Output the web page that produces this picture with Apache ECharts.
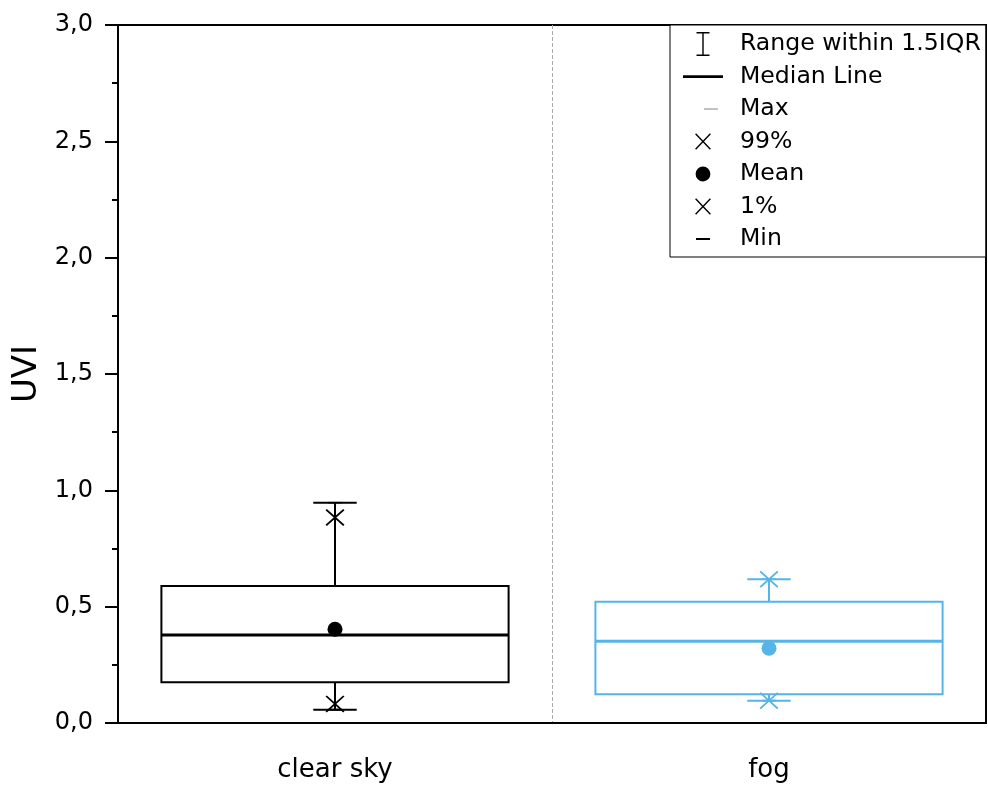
<!DOCTYPE html>
<html>
<head>
<meta charset="utf-8">
<style>
  html, body { margin: 0; padding: 0; background: #fff; }
  #main { width: 988px; height: 787px; }
</style>
<script src="https://cdn.jsdelivr.net/npm/echarts@6/dist/echarts.min.js"></script>
</head>
<body>
<div id="main"></div>
<script>
var categories = ['clear sky', 'fog'];
var colors = ['#000000', '#56B4E9'];

// whisker ends (range within 1.5 IQR), quartiles, median
var whiskerLow = [0.057, 0.096];
var q1 = [0.175, 0.124];
var median = [0.378, 0.351];
var q3 = [0.589, 0.521];
var whiskerHigh = [0.947, 0.618];

var maxVals = [0.947, 0.618];
var p99 = [0.883, 0.618];
var means = [0.403, 0.321];
var p1 = [0.082, 0.096];
var minVals = [0.057, 0.096];

var yTicks = [0, 0.5, 1, 1.5, 2, 2.5, 3];

var chart = echarts.init(document.getElementById('main'));

function pointData(vals) {
  return vals.map(function (v, i) {
    return { value: [i, v], itemStyle: { color: colors[i] } };
  });
}

var boxData = categories.map(function (c, i) {
  return {
    value: [i, whiskerLow[i], q1[i], median[i], q3[i], whiskerHigh[i]],
    itemStyle: { color: colors[i] }
  };
});

function renderBox(params, api) {
  var x = api.value(0);
  var lo = api.coord([x, api.value(1)]);
  var b1 = api.coord([x, api.value(2)]);
  var b3 = api.coord([x, api.value(4)]);
  var hi = api.coord([x, api.value(5)]);
  var band = api.size([1, 0])[0];
  var bw = band * 0.8, cw = band * 0.1;
  var c = api.visual('color');
  var st = { stroke: c, lineWidth: 2, fill: null };
  return {
    type: 'group',
    children: [
      { type: 'rect', shape: { x: lo[0] - bw / 2, y: b3[1], width: bw, height: b1[1] - b3[1] }, style: st },
      { type: 'line', shape: { x1: hi[0], y1: hi[1], x2: hi[0], y2: b3[1] }, style: st },
      { type: 'line', shape: { x1: lo[0], y1: b1[1], x2: lo[0], y2: lo[1] }, style: st },
      { type: 'line', shape: { x1: hi[0] - cw / 2, y1: hi[1], x2: hi[0] + cw / 2, y2: hi[1] }, style: st },
      { type: 'line', shape: { x1: lo[0] - cw / 2, y1: lo[1], x2: lo[0] + cw / 2, y2: lo[1] }, style: st }
    ]
  };
}

function renderMedian(params, api) {
  var p = api.coord([api.value(0), api.value(1)]);
  var bw = api.size([1, 0])[0] * 0.8;
  return {
    type: 'line',
    shape: { x1: p[0] - bw / 2, y1: p[1], x2: p[0] + bw / 2, y2: p[1] },
    style: { stroke: api.visual('color'), lineWidth: 3 }
  };
}

var crossPath = 'path://M0,7L7,0L100,93L93,100Z M93,0L100,7L7,100L0,93Z';

// legend icons drawn in a 52x24 frame (corner moves fix the frame)
var F = 'path://M0,0 M52,24 ';
var icons = {
  range: F + 'M13.5,0h13v1.6h-13Z M19.3,0h1.4v24h-1.4Z M13.5,22.4h13v1.6h-13Z',
  median: F + 'M0,10.7h40v2.8h-40Z',
  max: F + 'M21,11.4h14v1.2h-14Z',
  cross: F + 'M12.1,4.8L13.1,3.8L27.9,19.2L26.9,20.2Z M26.9,3.8L27.9,4.8L13.1,20.2L12.1,19.2Z',
  mean: F + 'M20,4.6A7.4,7.4,0,1,1,19.99,4.6Z',
  min: F + 'M13,11h14v2h-14Z'
};

var option = {
  backgroundColor: '#fff',
  animation: false,
  textStyle: { fontFamily: 'DejaVu Sans, sans-serif' },
  grid: {
    left: 118, right: 2, top: 25, bottom: 64,
    show: true, borderColor: '#000', borderWidth: 2, backgroundColor: '#fff'
  },
  legend: {
    orient: 'vertical',
    left: 670, top: 25,
    padding: [7, 5, 6, 13],
    itemWidth: 52, itemHeight: 24, itemGap: 8.5,
    backgroundColor: '#fff',
    borderColor: '#000', borderWidth: 1,
    selectedMode: false,
    itemStyle: { borderWidth: 0 },
    textStyle: { fontSize: 23.6, color: '#000', padding: [0, 0, 0, 0] },
    data: [
      { name: 'Range within 1.5IQR', icon: icons.range, itemStyle: { color: '#000' } },
      { name: 'Median Line', icon: icons.median, itemStyle: { color: '#000' } },
      { name: 'Max', icon: icons.max, itemStyle: { color: '#999' } },
      { name: '99%', icon: icons.cross, itemStyle: { color: '#000' } },
      { name: 'Mean', icon: icons.mean, itemStyle: { color: '#000' } },
      { name: '1%', icon: icons.cross, itemStyle: { color: '#000' } },
      { name: 'Min', icon: icons.min, itemStyle: { color: '#000' } }
    ]
  },
  xAxis: {
    type: 'category',
    data: categories,
    boundaryGap: true,
    axisLine: { lineStyle: { color: '#000', width: 2 } },
    axisTick: { alignWithLabel: true, length: 13, lineStyle: { color: '#000', width: 2 } },
    axisLabel: { fontSize: 26, color: '#000', margin: 34 },
    splitLine: {
      show: true, showMinLine: false, showMaxLine: false,
      lineStyle: { color: '#aaa', type: 'dashed', width: 1 }
    }
  },
  yAxis: {
    type: 'value',
    min: yTicks[0], max: yTicks[yTicks.length - 1], interval: 0.5,
    name: 'UVI', nameLocation: 'middle', nameGap: 74, nameRotate: 90,
    nameTextStyle: { fontSize: 34, color: '#000' },
    axisLine: { show: true, lineStyle: { color: '#000', width: 2 } },
    axisTick: { show: true, length: 13, lineStyle: { color: '#000', width: 2 } },
    minorTick: { show: true, splitNumber: 2, length: 6, lineStyle: { color: '#000', width: 2 } },
    axisLabel: {
      fontSize: 24, color: '#000', margin: 25,
      formatter: function (v) { return v.toFixed(1).replace('.', ','); }
    },
    splitLine: { show: false }
  },
  series: [
    {
      name: 'Max', type: 'scatter', z: 1,
      symbol: 'rect', symbolSize: [14, 1.5],
      itemStyle: { color: '#999', opacity: 1 },
      data: pointData(maxVals)
    },
    {
      name: 'Range within 1.5IQR', type: 'custom', z: 2,
      itemStyle: { color: '#000' },
      renderItem: renderBox,
      encode: { x: 0, y: [1, 2, 3, 4, 5] },
      data: boxData
    },
    {
      name: 'Median Line', type: 'custom', z: 3,
      itemStyle: { color: '#000' },
      renderItem: renderMedian,
      encode: { x: 0, y: 1 },
      data: pointData(median)
    },
    {
      name: 'Min', type: 'scatter', z: 3,
      symbol: 'rect', symbolSize: [14, 2],
      itemStyle: { color: '#000', opacity: 1 },
      data: pointData(minVals)
    },
    {
      name: '99%', type: 'scatter', z: 4,
      symbol: crossPath, symbolSize: [19, 17],
      itemStyle: { color: '#000', opacity: 1 },
      data: pointData(p99)
    },
    {
      name: 'Mean', type: 'scatter', z: 4,
      symbol: 'circle', symbolSize: 15,
      itemStyle: { color: '#000', opacity: 1 },
      data: pointData(means)
    },
    {
      name: '1%', type: 'scatter', z: 4,
      symbol: crossPath, symbolSize: [19, 17],
      itemStyle: { color: '#000', opacity: 1 },
      data: pointData(p1)
    }
  ]
};

chart.setOption(option);
</script>
</body>
</html>
